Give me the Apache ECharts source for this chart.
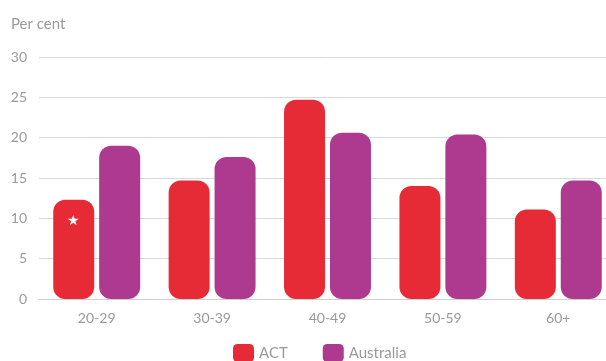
<!DOCTYPE html>
<html>
<head>
<meta charset="utf-8">
<script src="https://cdn.jsdelivr.net/npm/echarts@6/dist/echarts.min.js"></script>
<style>
  html, body { margin: 0; padding: 0; background: #fff; overflow: hidden; }
  /* the reference chart is cropped on the right, so the canvas runs a little past the window */
  #chart { width: 616px; height: 361px; }
</style>
</head>
<body>
<div id="chart"></div>
<script>
// data
const categories = ['20-29', '30-39', '40-49', '50-59', '60+']
const actValues = [12.3, 14.7, 24.7, 14.0, 11.1]
const ausValues = [19.0, 17.6, 20.6, 20.4, 14.7]
const starred = ['20-29']   // categories marked with a star on the ACT bar
const yTicks = { min: 0, max: 30, interval: 5 }

const ACT_COLOR = '#e62a36'
const AUS_COLOR = '#ad3a8e'
const TEXT = '#9a9a9a'
const FONT = 'Lato, "Open Sans", sans-serif'

const chart = echarts.init(document.getElementById('chart'))

const actData = actValues.map((v, i) => {
  if (!starred.includes(categories[i])) return v
  return {
    value: v,
    label: {
      show: true,
      position: 'insideTop',
      distance: 14,
      formatter: '★',
      color: '#fff',
      fontSize: 14
    }
  }
})

chart.setOption({
  animation: false,
  textStyle: { fontFamily: FONT },
  title: {
    text: 'Per cent',
    left: 6,
    top: 12,
    textStyle: { color: TEXT, fontSize: 15, fontWeight: 'normal', fontFamily: FONT }
  },
  legend: {
    left: 228,
    top: 339,
    icon: 'roundRect',
    itemWidth: 21,
    itemHeight: 18,
    itemGap: 35,
    textStyle: { color: TEXT, fontSize: 15, fontFamily: FONT },
    data: ['ACT', 'Australia']
  },
  grid: {
    left: 39,
    right: 0,
    top: 57,
    bottom: 62
  },
  xAxis: {
    type: 'category',
    data: categories,
    axisLine: { lineStyle: { color: '#cfcfcf' } },
    axisTick: { show: false },
    axisLabel: { color: TEXT, fontSize: 14, margin: 12, fontFamily: FONT }
  },
  yAxis: {
    type: 'value',
    min: yTicks.min,
    max: yTicks.max,
    interval: yTicks.interval,
    axisLine: { show: false },
    axisTick: { show: false },
    axisLabel: { color: TEXT, fontSize: 14, margin: 12, fontFamily: FONT },
    splitLine: { lineStyle: { color: '#d9d9d9' } }
  },
  series: [
    {
      name: 'ACT',
      type: 'bar',
      data: actData,
      barWidth: 41,
      barGap: '12%',
      itemStyle: { color: ACT_COLOR, borderRadius: 12 }
    },
    {
      name: 'Australia',
      type: 'bar',
      data: ausValues,
      barWidth: 41,
      itemStyle: { color: AUS_COLOR, borderRadius: 12 }
    }
  ]
})
</script>
</body>
</html>
